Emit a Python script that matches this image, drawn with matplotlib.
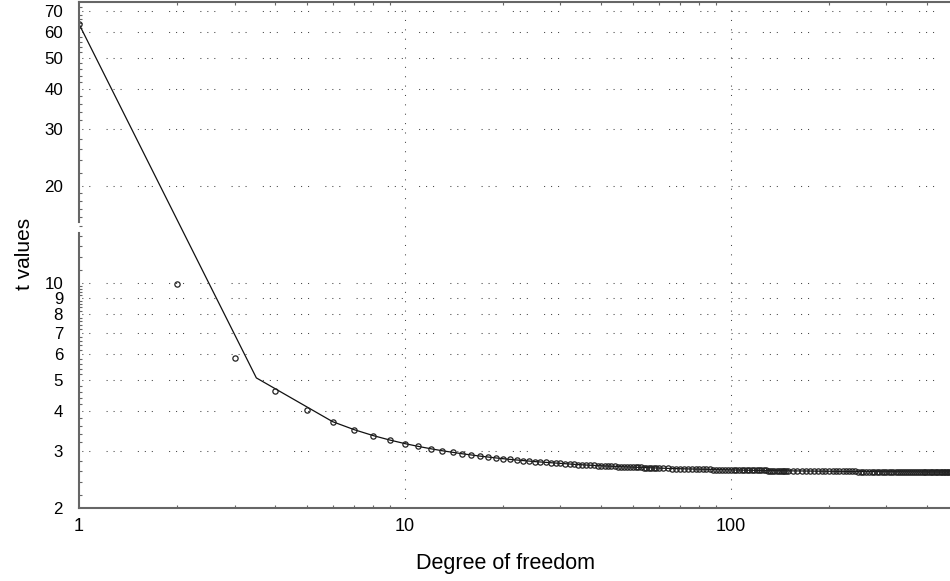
import numpy as np
import matplotlib
matplotlib.use("Agg")
import matplotlib.pyplot as plt
from matplotlib.ticker import FixedLocator, NullFormatter

plt.rcParams['font.family'] = ['Liberation Sans', 'DejaVu Sans']

# degrees of freedom with the t values (markers)
df_pts = [1, 2, 3, 4, 5, 6, 7, 8, 9, 10,
          11, 12, 13, 14, 15, 16, 17, 18, 19, 20,
          21, 22, 23, 24, 25, 26, 27, 28, 29, 30,
          31, 32, 33, 34, 35, 36, 37, 38, 39, 40,
          41, 42, 43, 44, 45, 46, 47, 48, 49, 50,
          51, 52, 53, 54, 55, 56, 57, 58, 59, 60,
          62, 64, 66, 68, 70, 72, 74, 76, 78, 80,
          82, 84, 86, 88, 90, 92, 94, 96, 98, 100,
          102, 104, 106, 108, 110, 112, 114, 116, 118, 120,
          122, 124, 126, 128, 130, 132, 134, 136, 138, 140,
          142, 144, 146, 148, 150, 155, 160, 165, 170, 175,
          180, 185, 190, 195, 200, 205, 210, 215, 220, 225,
          230, 235, 240, 245, 250, 255, 260, 265, 270, 275,
          280, 285, 290, 295, 300, 305, 310, 315, 320, 325,
          330, 335, 340, 345, 350, 355, 360, 365, 370, 375,
          380, 385, 390, 395, 400, 405, 410, 415, 420, 425,
          430, 435, 440, 445, 450, 455, 460, 465, 470, 475]
t_pts = [63.657, 9.925, 5.841, 4.604, 4.032, 3.707, 3.499, 3.355, 3.250, 3.169,
         3.106, 3.055, 3.012, 2.977, 2.947, 2.921, 2.898, 2.878, 2.861, 2.845,
         2.831, 2.819, 2.807, 2.797, 2.787, 2.779, 2.771, 2.763, 2.756, 2.750,
         2.744, 2.738, 2.733, 2.728, 2.724, 2.719, 2.715, 2.712, 2.708, 2.704,
         2.701, 2.698, 2.695, 2.692, 2.690, 2.687, 2.685, 2.682, 2.680, 2.678,
         2.676, 2.674, 2.672, 2.670, 2.668, 2.667, 2.665, 2.663, 2.662, 2.660,
         2.657, 2.655, 2.652, 2.650, 2.648, 2.646, 2.644, 2.642, 2.640, 2.639,
         2.637, 2.636, 2.634, 2.633, 2.632, 2.630, 2.629, 2.628, 2.627, 2.626,
         2.625, 2.624, 2.623, 2.622, 2.621, 2.620, 2.620, 2.619, 2.618, 2.617,
         2.617, 2.616, 2.615, 2.615, 2.614, 2.614, 2.613, 2.613, 2.612, 2.611,
         2.611, 2.610, 2.610, 2.609, 2.609, 2.608, 2.607, 2.606, 2.605, 2.604,
         2.603, 2.603, 2.602, 2.601, 2.601, 2.600, 2.599, 2.599, 2.598, 2.598,
         2.597, 2.597, 2.597, 2.596, 2.596, 2.595, 2.595, 2.595, 2.594, 2.594,
         2.594, 2.593, 2.593, 2.593, 2.592, 2.592, 2.592, 2.592, 2.591, 2.591,
         2.591, 2.591, 2.590, 2.590, 2.590, 2.590, 2.590, 2.589, 2.589, 2.589,
         2.589, 2.589, 2.589, 2.588, 2.588, 2.588, 2.588, 2.588, 2.588, 2.587,
         2.587, 2.587, 2.587, 2.587, 2.587, 2.587, 2.587, 2.586, 2.586, 2.586]

# the connecting line skips df 2..3 (kink near 3.5)
line_df = [1, 3.5] + df_pts[5:]
line_t = [63.657, 5.07] + t_pts[5:]

y_ticks = [2, 3, 4, 5, 6, 7, 8, 9, 10, 20, 30, 40, 50, 60, 70]
y_grid = [3, 4, 5, 6, 7, 8, 9, 10, 20, 30, 40, 50, 60, 70]
x_ticks = [1, 10, 100]

fig = plt.figure(figsize=(9.5, 5.81), dpi=100)
ax = fig.add_axes([79 / 950, 1 - 508 / 581, 1 - 79 / 950, 506 / 581])
ax.set_xscale('log')
ax.set_yscale('log')
ax.set_xlim(1, 470)
ax.set_ylim(2, 74.5)

grid_col = '#444444'
for yv in y_grid:
    ax.axhline(yv, color=grid_col, lw=0.75, ls=(4, (1, 5.7, 1, 5.7, 1, 15.6)), zorder=1)
for xv in [10, 100]:
    ax.axvline(xv, color=grid_col, lw=0.75, ls=(0, (1, 8)), zorder=1)

ax.plot(line_df, line_t, color='#111111', lw=0.9, zorder=3)
ax.plot(df_pts, t_pts, ls='none', marker='o', ms=3.8, mfc='none',
        mec='#222222', mew=0.9, zorder=4)

# axes frame with a break in the left spine
ax.spines['right'].set_visible(False)
ax.spines['left'].set_visible(False)
for side in ['top', 'bottom']:
    ax.spines[side].set_color('#666666')
    ax.spines[side].set_linewidth(1.5)
ytr = ax.get_yaxis_transform()
ax.plot([0, 0], [2, 14.3], transform=ytr, color='#666666', lw=1.5, clip_on=False, zorder=5)
ax.plot([0, 0], [15.5, 74.5], transform=ytr, color='#666666', lw=1.5, clip_on=False, zorder=5)

ax.yaxis.set_major_locator(FixedLocator(y_ticks))
ax.set_yticklabels([str(v) for v in y_ticks])
y_minor = list(np.arange(2.2, 10, 0.2)) + list(np.arange(11, 20, 1)) + list(np.arange(22, 74, 2))
ax.yaxis.set_minor_locator(FixedLocator(y_minor))
ax.yaxis.set_minor_formatter(NullFormatter())
ax.xaxis.set_major_locator(FixedLocator(x_ticks))
ax.set_xticklabels([str(v) for v in x_ticks])
x_minor = [2, 3, 4, 5, 6, 7, 8, 9, 20, 30, 40, 50, 60, 70, 80, 90, 200, 300, 400]
ax.xaxis.set_minor_locator(FixedLocator(x_minor))
ax.xaxis.set_minor_formatter(NullFormatter())

ax.tick_params(axis='both', which='major', direction='in', length=0,
               labelsize=12.2, colors='#555555', labelcolor='black')
ax.tick_params(axis='y', which='major', pad=11.5)
ax.tick_params(axis='x', which='major', pad=7.5)
ax.tick_params(axis='both', which='minor', direction='in', length=2.5,
               width=0.8, colors='#666666')
ax.tick_params(axis='x', which='both', top=True)
ax.tick_params(axis='x', which='major', labelsize=13)

ax.set_xlabel('Degree of freedom', fontsize=15.5)
ax.xaxis.set_label_coords((506 - 79) / 871, -(563 - 508) / 506)
ax.xaxis.label.set_va('center')
ax.set_ylabel('t values', fontsize=15)
ax.yaxis.set_label_coords(-(79 - 24) / 871, (508 - 254) / 506)
ax.yaxis.label.set_va('center')

fig.savefig('out.png', dpi=100)
